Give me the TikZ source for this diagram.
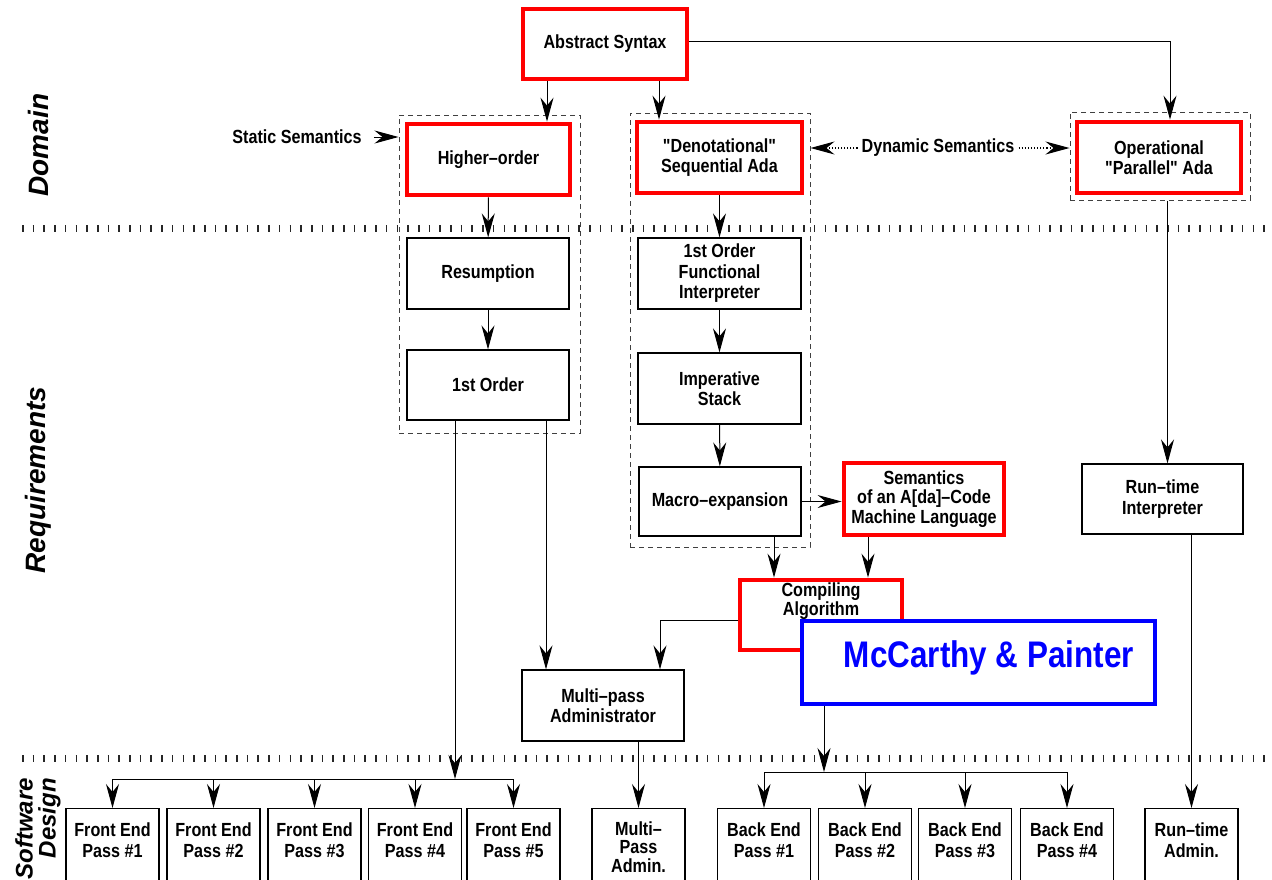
\documentclass[tikz,border=0pt]{standalone}
\usepackage{fontspec}
\usetikzlibrary{arrows.meta}
\newfontfamily\boxfont[FakeStretch=0.85]{Liberation Sans}
\newfontfamily\sidefont{Liberation Sans}
\definecolor{bred}{RGB}{255,0,0}
\definecolor{bblue}{RGB}{0,0,255}
\begin{document}
\begin{tikzpicture}[x=1pt,y=-1pt,
  txt/.style={font={\boxfont\bfseries\fontsize{19}{20.5}\selectfont}, align=center, inner sep=0pt},
  redbox/.style={txt, draw=bred, line width=4.8pt, fill=white},
  plainbox/.style={txt, draw=black, line width=1.2pt, fill=white},
  cont/.style={draw=black!75, dash pattern=on 5pt off 4pt, line width=1pt},
  side/.style={font={\sidefont\bfseries\itshape\fontsize{28}{26}\selectfont}, inner sep=0pt},
  sep/.style={line width=7pt, dash pattern=on 1.6pt off 9.1pt, black!85},
  tip/.tip={Stealth[length=24pt,width=13pt,inset=8pt]},
  arr/.style={line width=1pt, -tip},
  dotarr/.style={line width=1.1pt, dotted, -tip}
]
\useasboundingbox (0,0) rectangle (1272,879);
\clip (0,0) rectangle (1272,879);

% section separators
\draw[sep] (22,228) -- (1272,228);
\draw[sep] (22,758) -- (1272,758);

% section titles
\node[side, rotate=90] (dom) at (38,145) {Domain};
\node[side, rotate=90] (req) at (38,480) {Requirements};
\node[side, rotate=90, align=right, anchor=east, font={\sidefont\bfseries\itshape\fontsize{24}{23}\selectfont}] (sd) at (38,778) {Software\\Design};

% dashed groupings
\node[cont, minimum width=181, minimum height=318] (hoc) at (489.5,274) {};
\node[cont, minimum width=180, minimum height=434] (denc) at (720,330) {};
\node[cont, minimum width=180, minimum height=88] (opc) at (1160,156) {};

% domain level
\node[redbox, minimum width=164, minimum height=70] (abs) at (605,44) {Abstract Syntax};
\node[redbox, minimum width=163, minimum height=71] (ho) at (488.5,159.5) {Higher–order};
\node[redbox, minimum width=165, minimum height=71] (den) at (719.5,157.5) {"Denotational"\\Sequential Ada};
\node[redbox, minimum width=164, minimum height=71] (op) at (1159,157.5) {Operational\\"Parallel" Ada};
\node[txt] (ss) at (297,137) {Static Semantics};
\node[txt, fill=white, inner xsep=4pt] (dyn) at (938,148) {Dynamic Semantics};

% requirements level
\node[plainbox, minimum width=162, minimum height=71] (res) at (488,273.5) {Resumption};
\node[plainbox, minimum width=162, minimum height=70] (fo) at (488,385) {1st Order};
\node[plainbox, minimum width=163, minimum height=71] (fi) at (719.5,273.5) {1st Order\\Functional\\Interpreter};
\node[plainbox, minimum width=163, minimum height=71] (imp) at (719.5,388.5) {Imperative\\Stack};
\node[plainbox, minimum width=162, minimum height=69] (mac) at (720,501.5) {Macro–expansion};
\node[redbox, minimum width=160, minimum height=72, font={\boxfont\bfseries\fontsize{19}{19.5}\selectfont}] (sem) at (924,499) {Semantics\\of an A[da]–Code\\Machine Language};
\node[plainbox, minimum width=161, minimum height=70] (rti) at (1162.5,499) {Run–time\\Interpreter};
\node[redbox, minimum width=162, minimum height=70] (comp) at (821,615) {};
\node[txt, font={\boxfont\bfseries\fontsize{19}{17}\selectfont}] (compt) at (821,601.5) {Compiling\\Algorithm};
\node[draw=bblue, line width=4.8pt, fill=white, minimum width=353, minimum height=83, inner sep=0pt] (mcc) at (978.5,662.5) {};
\node[inner sep=0pt, text=bblue, font={\boxfont\bfseries\fontsize{37}{37}\selectfont}] (mcct) at (989,658) {McCarthy \& Painter};
\node[plainbox, minimum width=162, minimum height=71] (mpa) at (603,705.5) {Multi–pass\\Administrator};

% software design level
\foreach \n/\cx in {fe1/112.5, fe2/213.5, fe3/314.5, fe4/415, fe5/513.5, mpab/638.5,
                   be1/764, be2/865, be3/965, be4/1067, rta/1191.5}
  \node[draw=black, line width=1.2pt, minimum width=93, minimum height=100, anchor=north, inner sep=0pt] (\n) at (\cx,808) {};
\foreach \n/\cx/\t in {fe1/112.5/{Front End\\Pass \#1}, fe2/213.5/{Front End\\Pass \#2},
                      fe3/314.5/{Front End\\Pass \#3}, fe4/415/{Front End\\Pass \#4},
                      fe5/513.5/{Front End\\Pass \#5}, be1/764/{Back End\\Pass \#1},
                      be2/865/{Back End\\Pass \#2}, be3/965/{Back End\\Pass \#3},
                      be4/1067/{Back End\\Pass \#4}, rta/1191.5/{Run–time\\Admin.}}
  \node[txt] (\n t) at (\cx,840) {\t};
\node[txt, font={\boxfont\bfseries\fontsize{19}{18.5}\selectfont}] (mpabt) at (638.5,847) {Multi–\\Pass\\Admin.};

% connectors: domain
\coordinate (absL) at ([xshift=-58pt]abs.south);
\coordinate (absR) at ([xshift=54pt]abs.south);
\draw[arr] (absL) -- (absL |- ho.north);
\draw[arr] (absR) -- (absR |- den.north);
\coordinate (opin) at ([xshift=11pt]op.north);
\draw[arr] ([yshift=3pt]abs.east) -| (opin);
\draw[arr] ([xshift=12pt]ss.east) -- (hoc.west |- ss.east);
\draw[dotarr] (dyn.west) -- (denc.east |- dyn.west);
\draw[dotarr] (dyn.east) -- (opc.west |- dyn.east);

% connectors: requirements
\draw[arr] (ho) -- (res);
\draw[arr] (res) -- (fo);
\draw[arr] (den.south -| fi.north) -- (fi.north);
\draw[arr] (fi) -- (imp);
\draw[arr] (imp) -- (mac);
\draw[arr] (mac.east) -- (sem.west |- mac.east);
\coordinate (compL) at ([xshift=-47pt]comp.north);
\coordinate (compR) at ([xshift=47pt]comp.north);
\draw[arr] (compL |- mac.south) -- (compL);
\draw[arr] (compR |- sem.south) -- (compR);
\coordinate (mpaL) at ([xshift=-57pt]mpa.north);
\coordinate (mpaR) at ([xshift=57pt]mpa.north);
\draw[arr] ([yshift=-5pt]comp.west) -| (mpaR);
\draw[arr] (mpaL |- fo.south) -- (mpaL);
\coordinate (rtiin) at ([xshift=5pt]rti.north);
\draw[arr] (rtiin |- opc.south) -- (rtiin);

% connectors: software design
\coordinate (febus) at (455,779);
\draw[arr] (febus |- fo.south) -- (febus);
\draw[line width=1pt] (febus -| fe1.north) -- (febus -| fe5.north);
\foreach \b in {fe1,fe2,fe3,fe4,fe5}
  \draw[arr] (febus -| \b.north) -- (\b.north);
\draw[arr] (mpa.south -| mpab.north) -- (mpab.north);
\coordinate (bebus) at (824,772);
\draw[arr] (bebus |- mcc.south) -- (bebus);
\draw[line width=1pt] (bebus -| be1.north) -- (bebus -| be4.north);
\foreach \b in {be1,be2,be3,be4}
  \draw[arr] (bebus -| \b.north) -- (\b.north);
\draw[arr] (rti.south -| rta.north) -- (rta.north);
\end{tikzpicture}
\end{document}
